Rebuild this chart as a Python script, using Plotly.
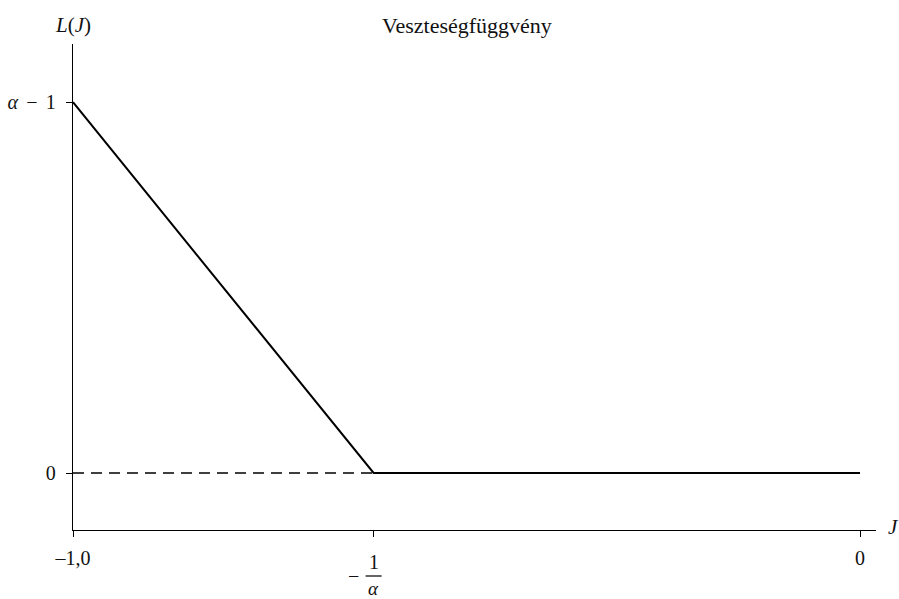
import plotly.graph_objects as go

alpha = 1.618
loss_x = [-1.0, -1.0 / alpha, 0.0]
loss_y = [alpha - 1.0, 0.0, 0.0]
ref_x = [-1.0, -1.0 / alpha]
ref_y = [0.0, 0.0]
xtick_vals = [-1.0, -1.0 / alpha, 0.0]
xtick_text = ["–1,0", "", "0"]
ytick_vals = [0.0, alpha - 1.0]
ytick_text = ["0", "<i>α</i>\u2004\u200a−\u2004\u200a1"]
title_text = "Veszteségfüggvény"

FONT = "Liberation Serif, DejaVu Serif, serif"

fig = go.Figure()
fig.add_trace(go.Scatter(x=ref_x, y=ref_y, mode="lines",
                         line=dict(color="black", width=1.4, dash="11px,7px"),
                         hoverinfo="skip", showlegend=False))
fig.add_trace(go.Scatter(x=loss_x, y=loss_y, mode="lines",
                         line=dict(color="black", width=2),
                         showlegend=False))

axis_common = dict(showgrid=False, zeroline=False, showline=True, linecolor="black",
                   linewidth=1.3, ticks="outside", ticklen=6, tickcolor="black",
                   tickwidth=1.3, tickfont=dict(size=20), automargin=False)

fig.update_layout(
    width=899, height=599,
    margin=dict(l=73, r=23, t=44, b=69, autoexpand=False),
    plot_bgcolor="white", paper_bgcolor="white",
    font=dict(family=FONT, size=20, color="#111"),
    xaxis=dict(range=[-1.0, 0.0203], tickvals=xtick_vals, ticktext=xtick_text,
               ticklabelstandoff=4, **axis_common),
    yaxis=dict(range=[-0.095, 0.715], tickvals=ytick_vals, ticktext=ytick_text,
               ticklabelstandoff=6, **axis_common),
)

fx = -1.0 / alpha
ann = []
ann.append(dict(x=-0.5, xref="x", y=1.0, yref="paper", yanchor="middle", yshift=19,
                text=title_text, showarrow=False, font=dict(size=22)))
ann.append(dict(x=-1.0, xref="x", y=1.0, yref="paper", yanchor="middle", yshift=19,
                text="<i>L</i>(<i>J</i>)", showarrow=False, font=dict(size=21)))
ann.append(dict(x=1.0, xref="paper", y=0, yref="paper", xanchor="center",
                yanchor="middle", xshift=17, yshift=3,
                text="<i>J</i>", showarrow=False, font=dict(size=21)))
# fraction tick label -1/alpha
ann.append(dict(x=fx, xref="x", y=0, yref="paper", yanchor="middle", yshift=-32,
                text="1", showarrow=False, font=dict(size=20)))
ann.append(dict(x=fx, xref="x", y=0, yref="paper", yanchor="middle", yshift=-46,
                xshift=-20, text="−", showarrow=False, font=dict(size=20)))
ann.append(dict(x=fx, xref="x", y=0, yref="paper", yanchor="middle", yshift=-58,
                text="<i>α</i>", showarrow=False, font=dict(size=19)))
fig.update_layout(annotations=ann)
# fraction bar
fig.add_shape(type="line", xref="x", yref="paper", xsizemode="pixel", ysizemode="pixel",
              xanchor=fx, yanchor=0, x0=-8, x1=8, y0=-46, y1=-46,
              line=dict(color="#111", width=1.3))

fig.write_html("out.html", config={"displayModeBar": False},
               post_script="document.body.style.margin='0';")
